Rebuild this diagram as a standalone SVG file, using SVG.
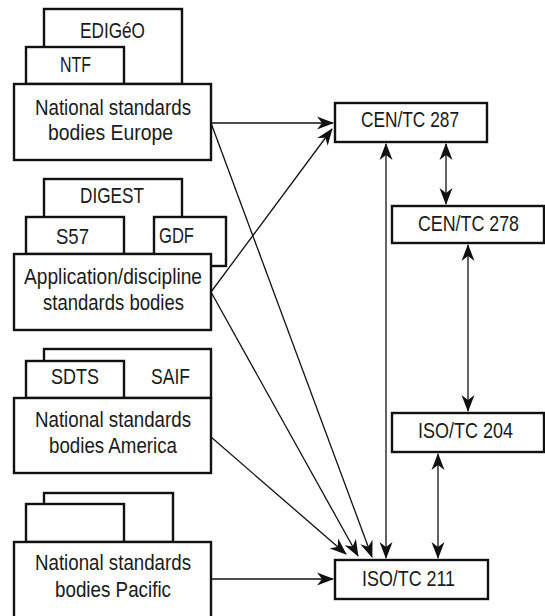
<svg xmlns="http://www.w3.org/2000/svg" width="545" height="616" viewBox="0 0 545 616">
<style>
.b{fill:#fff;stroke:#111;stroke-width:2.4}
.t{font-family:"Liberation Sans",Arial,sans-serif;font-size:21.5px;fill:#1a1a1a;text-anchor:middle}
.c{fill:none;stroke:#111;stroke-width:1.3}
</style>
<defs>
<marker id="ah" markerUnits="userSpaceOnUse" markerWidth="22" markerHeight="18" viewBox="-18 -9 20 18" refX="0" refY="0" orient="auto-start-reverse">
<path d="M1,0 L-16,-6.5 L-11,0 L-16,6.5 Z" fill="#111"/>
</marker>
</defs>
<rect width="545" height="616" fill="#fff"/>
<g id="europe">
<rect class="b" x="44" y="9" width="138" height="75"/>
<text class="t" x="112.5" y="38" textLength="65" lengthAdjust="spacingAndGlyphs">EDIGéO</text>
<rect class="b" x="26" y="47" width="98" height="37"/>
<text class="t" x="75.5" y="72" textLength="31" lengthAdjust="spacingAndGlyphs">NTF</text>
<rect class="b" x="14" y="84" width="197" height="76"/>
<text class="t" x="113" y="115" textLength="156" lengthAdjust="spacingAndGlyphs">National standards</text>
<text class="t" x="110.5" y="140" textLength="125" lengthAdjust="spacingAndGlyphs">bodies Europe</text>
</g>
<g id="application">
<rect class="b" x="44" y="179" width="138" height="75"/>
<text class="t" x="112" y="203" textLength="64" lengthAdjust="spacingAndGlyphs">DIGEST</text>
<rect class="b" x="26" y="217" width="98" height="37"/>
<text class="t" x="72.5" y="244" textLength="33" lengthAdjust="spacingAndGlyphs">S57</text>
<rect class="b" x="154" y="217" width="72" height="49"/>
<text class="t" x="176.5" y="243" textLength="35" lengthAdjust="spacingAndGlyphs">GDF</text>
<rect class="b" x="14" y="254" width="197" height="76"/>
<text class="t" x="113" y="284" textLength="178" lengthAdjust="spacingAndGlyphs">Application/discipline</text>
<text class="t" x="113.5" y="310" textLength="141" lengthAdjust="spacingAndGlyphs">standards bodies</text>
</g>
<g id="america">
<rect class="b" x="44" y="349" width="167" height="49"/>
<text class="t" x="170.5" y="384" textLength="39" lengthAdjust="spacingAndGlyphs">SAIF</text>
<rect class="b" x="26" y="361" width="98" height="37"/>
<text class="t" x="75" y="384" textLength="48" lengthAdjust="spacingAndGlyphs">SDTS</text>
<rect class="b" x="14" y="398" width="197" height="75"/>
<text class="t" x="113" y="427" textLength="156" lengthAdjust="spacingAndGlyphs">National standards</text>
<text class="t" x="113" y="453" textLength="128" lengthAdjust="spacingAndGlyphs">bodies America</text>
</g>
<g id="pacific">
<rect class="b" x="44" y="493" width="129" height="49"/>
<rect class="b" x="26" y="504" width="98" height="38"/>
<rect class="b" x="14" y="542" width="197" height="84"/>
<text class="t" x="113" y="570" textLength="156" lengthAdjust="spacingAndGlyphs">National standards</text>
<text class="t" x="113" y="597" textLength="116" lengthAdjust="spacingAndGlyphs">bodies Pacific</text>
</g>
<g id="cen287">
<rect class="b" x="335" y="103" width="152" height="39"/>
<text class="t" x="410" y="127" textLength="98" lengthAdjust="spacingAndGlyphs">CEN/TC 287</text>
</g>
<g id="cen278">
<rect class="b" x="392" y="206" width="152" height="37"/>
<text class="t" x="468.5" y="231" textLength="101" lengthAdjust="spacingAndGlyphs">CEN/TC 278</text>
</g>
<g id="iso204">
<rect class="b" x="392" y="413" width="152" height="39"/>
<text class="t" x="465.5" y="438" textLength="95" lengthAdjust="spacingAndGlyphs">ISO/TC 204</text>
</g>
<g id="iso211">
<rect class="b" x="335" y="560" width="153" height="39"/>
<text class="t" x="408.5" y="586" textLength="93" lengthAdjust="spacingAndGlyphs">ISO/TC 211</text>
</g>
<g id="connectors">
<line class="c" x1="211" y1="123" x2="333" y2="123" marker-end="url(#ah)"/>
<line class="c" x1="211" y1="292" x2="332" y2="129" marker-end="url(#ah)"/>
<line class="c" x1="386" y1="144" x2="386" y2="558" marker-start="url(#ah)" marker-end="url(#ah)"/>
<line class="c" x1="446" y1="144" x2="446" y2="204" marker-start="url(#ah)" marker-end="url(#ah)"/>
<line class="c" x1="468" y1="245" x2="468" y2="411" marker-start="url(#ah)" marker-end="url(#ah)"/>
<line class="c" x1="438" y1="454" x2="438" y2="558" marker-start="url(#ah)" marker-end="url(#ah)"/>
<line class="c" x1="211" y1="579" x2="333" y2="579" marker-end="url(#ah)"/>
<line class="c" x1="211" y1="437" x2="346" y2="554" marker-end="url(#ah)"/>
<line class="c" x1="211" y1="292" x2="358" y2="556" marker-end="url(#ah)"/>
<line class="c" x1="211" y1="123" x2="372" y2="557" marker-end="url(#ah)"/>
</g>
</svg>
